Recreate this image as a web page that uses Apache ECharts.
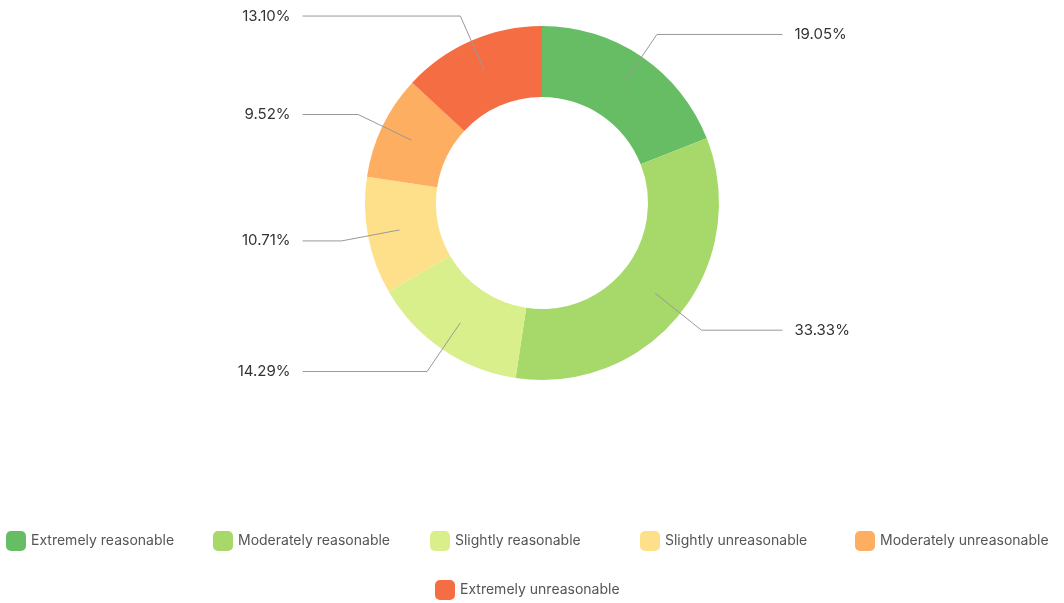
<!DOCTYPE html>
<html>
<head>
<meta charset="utf-8">
<script src="https://cdn.jsdelivr.net/npm/echarts@6/dist/echarts.min.js"></script>
<style>
html,body{margin:0;padding:0;background:#fff;}
#chart{width:1064px;height:603px;}
</style>
</head>
<body>
<div id="chart"></div>
<script>
const categories = ['Extremely reasonable','Moderately reasonable','Slightly reasonable','Slightly unreasonable','Moderately unreasonable','Extremely unreasonable'];
const percentages = [19.05, 33.33, 14.29, 10.71, 9.52, 13.10];
const colors = ['#66bd63','#a6d96a','#d9ef8b','#fee08b','#fdae61','#f46d43'];

const chart = echarts.init(document.getElementById('chart'));
const FONT = 'Inter, "Noto Sans", sans-serif';

const donutData = categories.map((c, i) => ({ name: c, value: percentages[i], itemStyle: { color: colors[i] } }));

// Label-carrying pie; right-hand slices (first two) get a longer horizontal leg.
const labelData = categories.map((c, i) => ({
  name: c,
  value: percentages[i],
  labelLine: { length2: i < 2 ? 81 : 39 }
}));

// one legend component per entry, placed like the reference layout
const legendSlots = [
  { left: 6, top: 531 }, { left: 213, top: 531 }, { left: 430, top: 531 },
  { left: 640, top: 531 }, { left: 855, top: 531 }, { left: 435, top: 580 }
];
const legends = categories.map((c, i) => ({
  data: [c],
  left: legendSlots[i].left,
  top: legendSlots[i].top,
  padding: 0,
  itemWidth: 20,
  itemHeight: 20,
  icon: 'roundRect',
  textStyle: { fontFamily: FONT, fontSize: 14, color: '#555' }
}));

const box = { left: 0, top: 0, right: 0, bottom: 0 };

chart.setOption({
  animation: false,
  backgroundColor: '#ffffff',
  legend: legends,
  series: [{
    type: 'pie',
    ...box,
    z: 2,
    center: [542, 203],
    radius: [106, 177],
    startAngle: 90,
    clockwise: true,
    label: { show: false },
    labelLine: { show: false },
    emphasis: { disabled: true },
    data: donutData
  }, {
    type: 'pie',
    ...box,
    z: 5,
    center: [542, 203],
    radius: [0, 145],
    startAngle: 90,
    clockwise: true,
    silent: true,
    itemStyle: { color: 'rgba(0,0,0,0)' },
    emphasis: { disabled: true },
    label: {
      show: true,
      alignTo: 'labelLine',
      distanceToLabelLine: 12,
      fontFamily: FONT,
      fontSize: 15,
      color: '#333',
      formatter: p => p.value.toFixed(2) + '%'
    },
    labelLine: {
      show: true,
      showAbove: true,
      length: 59,
      length2: 39,
      lineStyle: { color: '#999', width: 1 }
    },
    data: labelData
  }]
});
</script>
</body>
</html>
